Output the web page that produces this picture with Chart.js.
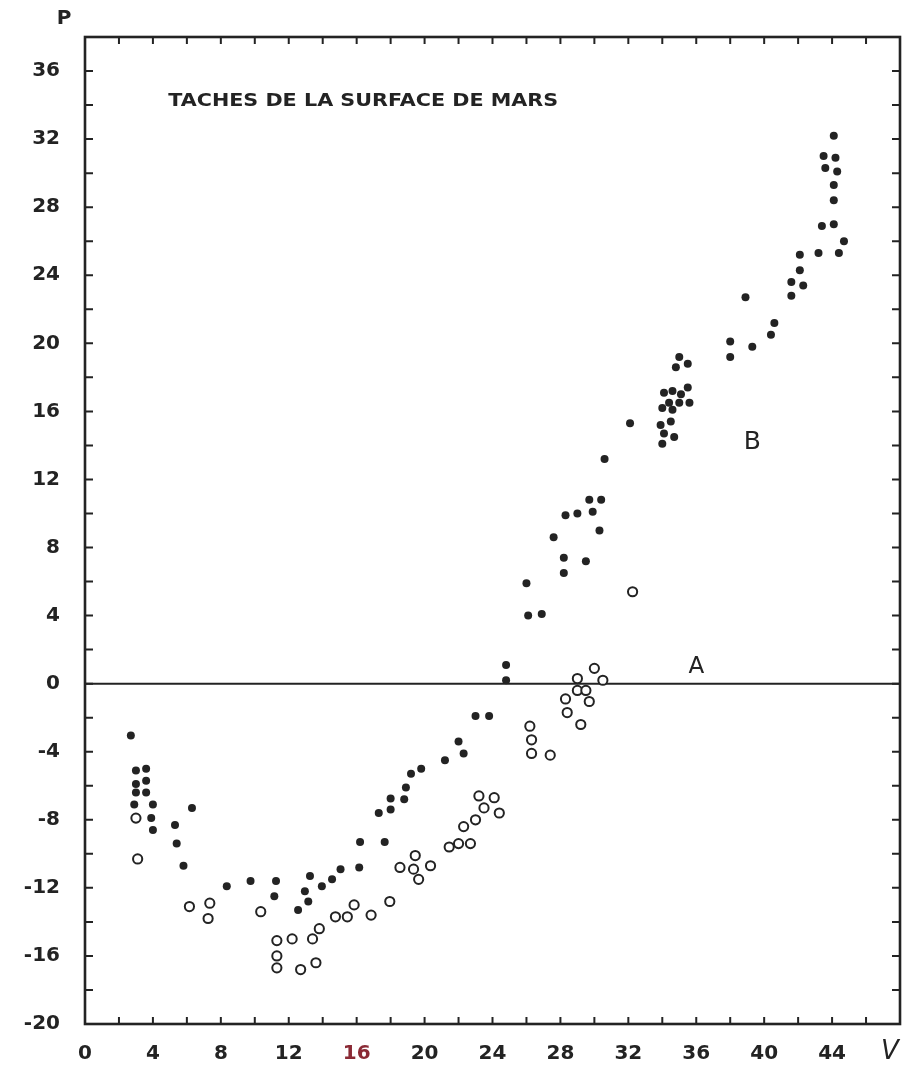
<!DOCTYPE html>
<html>
<head>
<meta charset="utf-8">
<script src="https://cdn.jsdelivr.net/npm/chart.js@4"></script>
<style>
html,body{margin:0;padding:0;background:#ffffff;}
#wrap{width:909px;height:1068px;}
</style>
</head>
<body>
<div id="wrap"><canvas id="c" width="909" height="1068"></canvas></div>
<script>
// Filled dots (curve B) : [V, P]
const filledSpots = [
  [2.7,-3.05],[3.0,-5.1],[3.6,-5.0],[3.0,-5.9],[3.6,-5.7],[3.0,-6.4],[3.6,-6.4],[2.9,-7.1],[4.0,-7.1],
  [3.9,-7.9],[4.0,-8.6],[5.3,-8.3],[5.4,-9.4],[6.3,-7.3],[5.8,-10.7],[8.35,-11.9],[9.75,-11.6],
  [11.25,-11.6],[11.15,-12.5],[12.55,-13.3],[12.95,-12.2],[13.25,-11.3],[13.15,-12.8],[13.95,-11.9],
  [14.55,-11.5],[15.05,-10.9],[16.2,-9.3],[16.15,-10.8],[17.65,-9.3],[17.3,-7.6],[18.0,-6.75],
  [18.0,-7.4],[18.8,-6.8],[18.9,-6.1],[19.2,-5.3],[19.8,-5.0],[21.2,-4.5],[22.0,-3.4],[22.3,-4.1],
  [23.0,-1.9],[23.8,-1.9],[24.8,1.1],[24.8,0.2],[26.0,5.9],[26.1,4.0],[26.9,4.1],[27.6,8.6],
  [28.2,7.4],[28.2,6.5],[28.3,9.9],[29.0,10.0],[29.5,7.2],[29.7,10.8],[30.4,10.8],[29.9,10.1],
  [30.3,9.0],[30.6,13.2],[32.1,15.3],[34.0,14.1],[34.1,14.7],[34.7,14.5],[33.9,15.2],[34.5,15.4],
  [34.0,16.2],[34.6,16.1],[34.4,16.5],[35.0,16.5],[35.6,16.5],[34.1,17.1],[34.6,17.2],[35.1,17.0],
  [35.5,17.4],[34.8,18.6],[35.0,19.2],[35.5,18.8],[38.0,19.2],[38.0,20.1],[39.3,19.8],[40.4,20.5],
  [40.6,21.2],[38.9,22.7],[41.6,22.8],[41.6,23.6],[42.3,23.4],[42.1,25.2],[42.1,24.3],[43.2,25.3],
  [44.4,25.3],[44.7,26.0],[43.4,26.9],[44.1,27.0],[44.1,28.4],[44.1,29.3],[44.3,30.1],[43.6,30.3],
  [44.2,30.9],[43.5,31.0],[44.1,32.2]
];
// Open circles (curve A) : [V, P]
const openSpots = [
  [3.0,-7.9],[3.1,-10.3],[6.15,-13.1],[7.35,-12.9],[7.25,-13.8],[10.35,-13.4],[11.3,-15.1],[11.3,-16.0],
  [11.3,-16.7],[12.2,-15.0],[12.7,-16.8],[13.4,-15.0],[13.8,-14.4],[13.6,-16.4],[14.75,-13.7],
  [15.45,-13.7],[15.85,-13.0],[16.85,-13.6],[17.95,-12.8],[18.55,-10.8],[19.35,-10.9],[19.45,-10.1],
  [19.65,-11.5],[20.35,-10.7],[21.45,-9.6],[22.0,-9.4],[22.7,-9.4],[22.3,-8.4],[23.0,-8.0],[23.2,-6.6],
  [23.5,-7.3],[24.1,-6.7],[24.4,-7.6],[26.2,-2.5],[26.3,-3.3],[26.3,-4.1],[27.4,-4.2],[28.3,-0.9],
  [28.4,-1.7],[29.0,0.3],[29.0,-0.4],[29.5,-0.4],[29.7,-1.05],[29.2,-2.4],[30.0,0.9],[30.5,0.2],
  [32.25,5.4]
];
const zeroLine = [[0,0],[48,0]];
const xLabelValues = [0,4,8,12,16,20,24,28,32,36,40,44];
const yLabelValues = [-20,-16,-12,-8,-4,0,4,8,12,16,20,24,28,32,36];
const chartTitle = 'TACHES DE LA SURFACE DE MARS';
const xAxisName = 'V';
const yAxisName = 'P';
const curveNames = ['A','B'];

const INK = '#232323';
const FONT = '"DejaVu Sans", sans-serif';

const framePlugin = {
  id: 'frame',
  afterDatasetsDraw(chart) {
    const ctx = chart.ctx;
    const {left, right, top, bottom} = chart.chartArea;
    const xs = chart.scales.x, ys = chart.scales.y;
    ctx.save();
    ctx.strokeStyle = INK;
    ctx.lineCap = 'butt';
    ctx.lineWidth = 2;
    const tl = 7;
    xs.ticks.forEach(t => {
      const p = xs.getPixelForValue(t.value);
      if (p <= left + 1 || p >= right - 1) return;
      ctx.beginPath();
      ctx.moveTo(p, bottom); ctx.lineTo(p, bottom - tl);
      ctx.moveTo(p, top); ctx.lineTo(p, top + tl);
      ctx.stroke();
    });
    ys.ticks.forEach(t => {
      const p = ys.getPixelForValue(t.value);
      if (p <= top + 1 || p >= bottom - 1) return;
      ctx.beginPath();
      ctx.moveTo(left, p); ctx.lineTo(left + tl + 1, p);
      ctx.moveTo(right, p); ctx.lineTo(right - tl - 1, p);
      ctx.stroke();
    });
    ctx.lineWidth = 2.6;
    ctx.strokeRect(left, top, right - left, bottom - top);

    ctx.fillStyle = INK;
    ctx.textBaseline = 'middle';
    ctx.font = 'bold 17px ' + FONT;
    const tw = ctx.measureText(chartTitle).width;
    const tx = xs.getPixelForValue(4.9), ty = ys.getPixelForValue(34.2);
    ctx.save();
    ctx.translate(tx, ty);
    ctx.scale(390 / tw, 1);
    ctx.textAlign = 'left';
    ctx.fillText(chartTitle, 0, 0);
    ctx.restore();
    ctx.textAlign = 'center';
    ctx.font = '23px ' + FONT;
    ctx.fillText(curveNames[0], xs.getPixelForValue(36.0), ys.getPixelForValue(0.95));
    ctx.font = '25px ' + FONT;
    ctx.fillText(curveNames[1], xs.getPixelForValue(39.3), ys.getPixelForValue(14.2));
    ctx.font = 'bold 20px ' + FONT;
    ctx.fillText(yAxisName, 64, 19);
    ctx.font = 'italic 26px ' + FONT;
    ctx.fillText(xAxisName, xs.getPixelForValue(47.4), 1052);
    ctx.restore();
  }
};

new Chart(document.getElementById('c'), {
  type: 'scatter',
  data: {
    datasets: [
      {
        label: 'B',
        data: filledSpots.map(([x, y]) => ({x, y})),
        pointRadius: 4,
        pointHoverRadius: 4,
        backgroundColor: INK,
        borderColor: INK,
        borderWidth: 0,
        order: 1
      },
      {
        label: 'A',
        data: openSpots.map(([x, y]) => ({x, y})),
        pointRadius: 4.6,
        pointHoverRadius: 4.6,
        backgroundColor: '#ffffff',
        borderColor: INK,
        borderWidth: 2,
        order: 2
      },
      {
        type: 'line',
        label: 'zero',
        data: zeroLine.map(([x, y]) => ({x, y})),
        borderColor: INK,
        borderWidth: 2,
        pointRadius: 0,
        fill: false,
        order: 3
      }
    ]
  },
  options: {
    responsive: false,
    animation: false,
    devicePixelRatio: 1,
    layout: { padding: { top: 37, right: 9, left: 0, bottom: 0 } },
    plugins: { legend: { display: false }, tooltip: { enabled: false }, title: { display: false } },
    scales: {
      x: {
        type: 'linear', min: 0, max: 48,
        grid: { display: false, drawTicks: false },
        border: { display: false },
        ticks: {
          stepSize: 2, autoSkip: false, maxRotation: 0, padding: 18,
          color: ctx => ctx.tick && ctx.tick.value === 16 ? '#8a2a35' : INK,
          font: { family: FONT, size: 20, weight: 'bold' },
          callback: v => xLabelValues.includes(v) ? String(v) : ''
        },
        afterFit: s => { s.height = 44; s.paddingLeft = 0; s.paddingRight = 0; }
      },
      y: {
        type: 'linear', min: -20, max: 38,
        grid: { display: false, drawTicks: false },
        border: { display: false },
        ticks: {
          stepSize: 2, autoSkip: false, padding: 25,
          color: INK,
          font: { family: FONT, size: 20, weight: 'bold' },
          callback: v => yLabelValues.includes(v) ? String(v) : ''
        },
        afterFit: s => { s.width = 85; s.paddingTop = 0; s.paddingBottom = 0; }
      }
    }
  },
  plugins: [framePlugin]
});
</script>
</body>
</html>
